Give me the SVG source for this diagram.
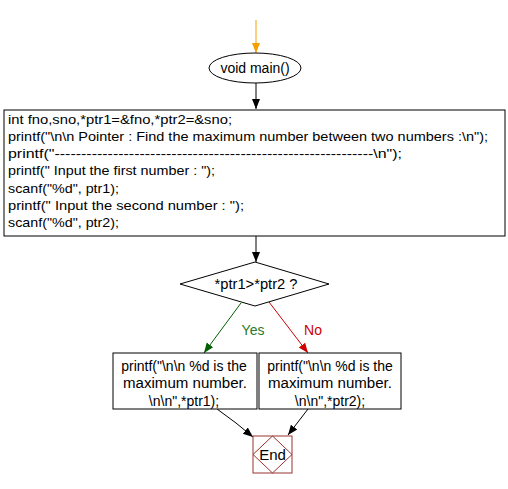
<svg xmlns="http://www.w3.org/2000/svg" width="508" height="489" viewBox="0 0 508 489">
<style>
.n{fill:#fff;stroke:#000;stroke-width:1}
.t{font-family:"Liberation Sans",Arial,sans-serif;fill:#000}
.c{stroke:#000;stroke-width:1;fill:none}
</style>
<defs>
<marker id="ab" viewBox="0 0 10 10" refX="10" refY="5" markerWidth="10" markerHeight="10" markerUnits="userSpaceOnUse" orient="auto"><path d="M0,1 L10,5 L0,9 z" fill="#000"/></marker>
<marker id="ao" viewBox="0 0 10 10" refX="10" refY="5" markerWidth="10" markerHeight="10" markerUnits="userSpaceOnUse" orient="auto"><path d="M0,1 L10,5 L0,9 z" fill="#f5a000"/></marker>
<marker id="ag" viewBox="0 0 10 10" refX="10" refY="5" markerWidth="10" markerHeight="10" markerUnits="userSpaceOnUse" orient="auto"><path d="M0,1 L10,5 L0,9 z" fill="#006000"/></marker>
<marker id="ar" viewBox="0 0 10 10" refX="10" refY="5" markerWidth="10" markerHeight="10" markerUnits="userSpaceOnUse" orient="auto"><path d="M0,1 L10,5 L0,9 z" fill="#cc0000"/></marker>
</defs>
<rect width="508" height="489" fill="#fff"/>
<g id="connectors">
<line x1="256" y1="20" x2="256" y2="53" stroke="#f5a000" stroke-width="1" marker-end="url(#ao)"/>
<line class="c" x1="256" y1="83" x2="256" y2="109" marker-end="url(#ab)"/>
<line class="c" x1="256" y1="236" x2="256" y2="262" marker-end="url(#ab)"/>
<line x1="241" y1="303" x2="204" y2="353" stroke="#006000" stroke-width="1" marker-end="url(#ag)"/>
<line x1="269" y1="302" x2="308" y2="353" stroke="#cc0000" stroke-width="1" marker-end="url(#ar)"/>
<polyline class="c" points="217,409 236,423 253,437" marker-end="url(#ab)"/>
<line class="c" x1="308" y1="409" x2="288" y2="435" marker-end="url(#ab)"/>
<text class="t" x="253" y="335" font-size="14" style="fill:#2a7a2a" text-anchor="middle">Yes</text>
<text class="t" x="313" y="335" font-size="14" style="fill:#cc0000" text-anchor="middle">No</text>
</g>
<g id="start">
<ellipse class="n" cx="255" cy="68" rx="46" ry="15"/>
<text class="t" x="255" y="73" font-size="14" text-anchor="middle">void main()</text>
</g>
<g id="input">
<rect class="n" x="4" y="110" width="501" height="126"/>
<g class="t" font-size="13" lengthAdjust="spacingAndGlyphs">
<text x="8" y="124" textLength="224" lengthAdjust="spacingAndGlyphs">int fno,sno,*ptr1=&amp;fno,*ptr2=&amp;sno;</text>
<text x="8" y="141" textLength="480" lengthAdjust="spacingAndGlyphs">printf("\n\n Pointer : Find the maximum number between two numbers :\n");</text>
<text x="8" y="158" textLength="394" lengthAdjust="spacingAndGlyphs">printf("------------------------------------------------------------\n");</text>
<text x="8" y="175" textLength="207" lengthAdjust="spacingAndGlyphs">printf(" Input the first number : ");</text>
<text x="8" y="193" textLength="111" lengthAdjust="spacingAndGlyphs">scanf("%d", ptr1);</text>
<text x="8" y="210" textLength="236" lengthAdjust="spacingAndGlyphs">printf(" Input the second  number : ");</text>
<text x="8" y="227" textLength="111" lengthAdjust="spacingAndGlyphs">scanf("%d", ptr2);</text>
</g>
</g>
<g id="cond">
<polygon class="n" points="255,262 329,284 255,306 180,284"/>
<text class="t" x="256" y="289" font-size="14" text-anchor="middle" textLength="83" lengthAdjust="spacingAndGlyphs">*ptr1&gt;*ptr2 ?</text>
</g>
<g id="yes">
<rect class="n" x="113" y="353" width="144" height="56"/>
<g class="t" font-size="14" text-anchor="middle">
<text x="184" y="371">printf("\n\n %d is the</text>
<text x="185" y="388" textLength="124" lengthAdjust="spacingAndGlyphs">maximum number.</text>
<text x="184" y="406">\n\n",*ptr1);</text>
</g>
</g>
<g id="no">
<rect class="n" x="259" y="353" width="142" height="56"/>
<g class="t" font-size="14" text-anchor="middle">
<text x="330" y="371">printf("\n\n %d is the</text>
<text x="330" y="388" textLength="124" lengthAdjust="spacingAndGlyphs">maximum number.</text>
<text x="330" y="406">\n\n",*ptr2);</text>
</g>
</g>
<g id="end">
<rect x="253" y="436" width="39" height="37" fill="#fff" stroke="#993333"/>
<polygon points="272.5,436 292,454.5 272.5,473 253,454.5" fill="none" stroke="#993333"/>
<text class="t" x="272.5" y="460" font-size="15" text-anchor="middle">End</text>
</g>
</svg>
